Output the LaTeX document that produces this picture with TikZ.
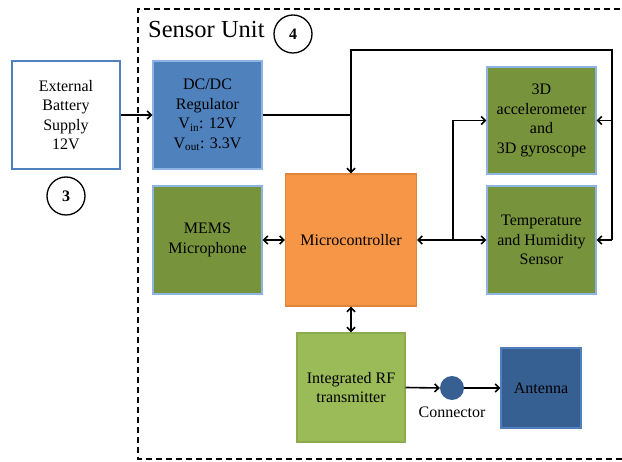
\documentclass[tikz,border=0pt]{standalone}
\usepackage{fontspec}
\setmainfont{Liberation Serif}
\usetikzlibrary{arrows.meta}
\definecolor{dcblue}{HTML}{4F81BD}
\definecolor{lblue}{HTML}{8EB4E3}
\definecolor{olive}{HTML}{77933C}
\definecolor{orng}{HTML}{F79646}
\definecolor{orngb}{HTML}{E0843A}
\definecolor{lgreen}{HTML}{9BBB59}
\definecolor{lgreenb}{HTML}{8CAA4E}
\definecolor{dblue}{HTML}{376092}
\tikzset{
  box/.style={draw, line width=1.4pt, align=center, inner sep=2pt,
    font=\fontsize{16}{19.5}\selectfont, text=black},
  ln/.style={line width=1.6pt, draw=black},
  arr/.style={ln, -{Straight Barb[length=4pt,width=8pt]}},
  darr/.style={ln, {Straight Barb[length=4pt,width=8pt]}-{Straight Barb[length=4pt,width=8pt]}},
  numc/.style={circle, draw, line width=1.3pt, minimum size=38pt, inner sep=0pt,
    font=\fontsize{16}{16}\selectfont\bfseries}
}
\begin{document}
\begin{tikzpicture}[x=1pt,y=-1pt]
\useasboundingbox (0,0) rectangle (622,462);
% dashed sensor unit frame
\draw[line width=1.5pt, dash pattern=on 6pt off 4pt] (630,9) -- (138,9) -- (138,459) -- (630,459);
\node[anchor=base west, font=\fontsize{24.5}{24.5}\selectfont, inner sep=0pt] (title) at (148,38) {Sensor Unit};
\node[numc] (n4) at (293,34) {4};
% boxes
\node[box, draw=dcblue, fill=white, minimum width=108pt, minimum height=108pt] (bat) at (66,115) {External\\Battery\\Supply\\12V};
\node[numc] (n3) at (66,196) {3};
\node[box, draw=lblue, fill=dcblue, minimum width=109pt, minimum height=108pt] (dc) at (207.5,115) {DC/DC\\Regulator\\V\textsubscript{in}: 12V\\V\textsubscript{out}: 3.3V};
\node[box, draw=lblue, fill=olive, minimum width=109pt, minimum height=108pt] (mems) at (207.5,240) {MEMS\\Microphone};
\node[box, draw=orngb, fill=orng, minimum width=131pt, minimum height=132pt] (mc) at (351,240) {Microcontroller};
\node[box, draw=lblue, fill=olive, minimum width=109pt, minimum height=107pt] (acc) at (541.5,120.5) {3D\\accelerometer\\and\\3D gyroscope};
\node[box, draw=lblue, fill=olive, minimum width=109pt, minimum height=108pt] (tmp) at (541.5,240) {Temperature\\and Humidity\\Sensor};
\node[box, draw=lgreenb, fill=lgreen, minimum width=108pt, minimum height=109pt] (rf) at (351,387.5) {Integrated RF\\transmitter};
\node[circle, fill=dblue, minimum size=24pt, inner sep=0pt] (con) at (452,388) {};
\node[font=\fontsize{16}{16}\selectfont, anchor=base, inner sep=0pt] (conl) at (452,418) {Connector};
\node[box, draw=dcblue, fill=dblue, minimum width=80pt, minimum height=80pt] (ant) at (541,388) {Antenna};
% junction coordinates
\coordinate (jdc) at (351,115);
\coordinate (jtop) at (351,50);
\coordinate (jtr) at (612,50);
\coordinate (jacc) at (612,120.5);
\coordinate (jtmp) at (612,240);
\coordinate (jm) at (453,240);
\coordinate (jm2) at (453,120.5);
% connectors
\draw[arr] (bat.east) -- (dc.west);
\draw[ln] (dc.east) -- (jdc);
\draw[arr] (jdc) -- (mc.north);
\draw[ln] (jdc) -- (jtop) -- (jtr) -- (jtmp);
\draw[arr] (jacc) -- (acc.east);
\draw[arr] (jtmp) -- (tmp.east);
\draw[darr] (mc.east) -- (tmp.west);
\draw[ln] (jm) -- (jm2);
\draw[arr] (jm2) -- (acc.west);
\draw[darr] (mems.east) -- (mc.west);
\draw[darr] (mc.south) -- (rf.north);
\draw[arr] (rf.east) -- (con.west);
\draw[arr] (con.east) -- (ant.west);
\end{tikzpicture}
\end{document}
